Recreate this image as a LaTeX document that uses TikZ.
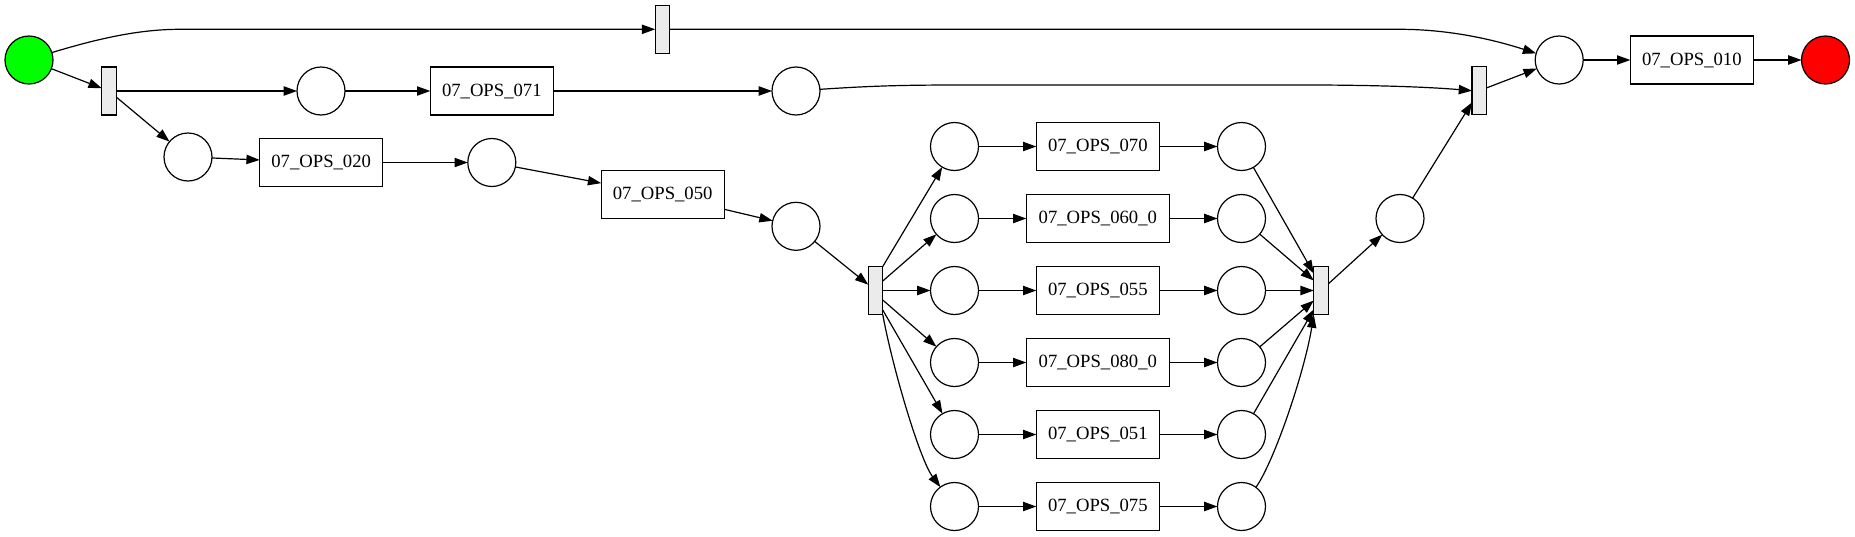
\documentclass[tikz,border=0pt]{standalone}
\usepackage{fontspec}
\setmainfont{Liberation Serif}
\usetikzlibrary{arrows.meta,calc}
\definecolor{tfill}{RGB}{235,235,235}
\definecolor{startgreen}{RGB}{0,255,0}
\definecolor{endred}{RGB}{255,0,0}
\begin{document}
\begin{tikzpicture}[x=1pt,y=-1pt,
  every node/.style={line width=1.2pt, draw=black, inner sep=0pt, outer sep=0pt},
  place/.style={circle, minimum size=48pt, fill=white},
  trans/.style={rectangle, minimum width=14.5pt, minimum height=48pt, fill=tfill},
  act/.style={rectangle, minimum width=123pt, minimum height=48pt, fill=white, font=\fontsize{18.67}{22}\selectfont},
  actw/.style={act, minimum width=143pt},
  arc/.style={line width=1.2pt, -{Triangle[length=13.3pt,width=9.3pt]}},
]
\useasboundingbox (0,0) rectangle (1855,536);
% nodes
\node[place, fill=startgreen] (src) at (29,60) {};
\node[trans] (t1) at (109,91) {};
\node[trans] (ttop) at (662.5,29.3) {};
\node[place] (p1) at (321,91) {};
\node[act] (a071) at (491.8,91) {07\_OPS\_071};
\node[place] (p071) at (796,91) {};
\node[place] (p2) at (188,157) {};
\node[act] (a020) at (321.2,162.5) {07\_OPS\_020};
\node[place] (p3) at (491.8,162.5) {};
\node[act] (a050) at (662.7,194.7) {07\_OPS\_050};
\node[place] (p4) at (796,226.3) {};
\node[trans] (tsplit) at (875.5,290.5) {};
\node[place] (l1) at (954.5,146.5) {};
\node[place] (l2) at (954.5,218.5) {};
\node[place] (l3) at (954.5,290.5) {};
\node[place] (l4) at (954.5,362.5) {};
\node[place] (l5) at (954.5,434.5) {};
\node[place] (l6) at (954.5,506.5) {};
\node[act]  (b1) at (1097.8,146.5) {07\_OPS\_070};
\node[actw] (b2) at (1097.8,218.5) {07\_OPS\_060\_0};
\node[act]  (b3) at (1097.8,290.5) {07\_OPS\_055};
\node[actw] (b4) at (1097.8,362.5) {07\_OPS\_080\_0};
\node[act]  (b5) at (1097.8,434.5) {07\_OPS\_051};
\node[act]  (b6) at (1097.8,506.5) {07\_OPS\_075};
\node[place] (r1) at (1241.5,146.5) {};
\node[place] (r2) at (1241.5,218.5) {};
\node[place] (r3) at (1241.5,290.5) {};
\node[place] (r4) at (1241.5,362.5) {};
\node[place] (r5) at (1241.5,434.5) {};
\node[place] (r6) at (1241.5,506.5) {};
\node[trans] (tjoin) at (1321,290.5) {};
\node[place] (pj) at (1400,218.5) {};
\node[trans] (tjoin2) at (1479.3,90.7) {};
\node[place] (pend) at (1559.2,60) {};
\node[act] (a010) at (1691.8,60) {07\_OPS\_010};
\node[place, fill=endred] (sink) at (1825.5,60) {};
% arcs
\draw[arc] (src.18) .. controls (100,38) and (140,29.3) .. (180,29.3) -- (ttop.west);
\draw[arc] (src) -- (t1);
\draw[arc] (t1) -- (p1);
\draw[arc] (t1) -- (p2);
\draw[arc] (p1) -- (a071);
\draw[arc] (a071) -- (p071);
\draw[arc] (p071.4) .. controls (870,86) and (900,85) .. (960,85) -- (1320,85) .. controls (1400,85.5) and (1440,88) .. (tjoin2.west);
\draw[arc] (ttop.east) -- (1400,29.3) .. controls (1450,29.3) and (1495,40) .. (pend.164);
\draw[arc] (p2) -- (a020);
\draw[arc] (a020) -- (p3);
\draw[arc] (p3) -- (a050);
\draw[arc] (a050) -- (p4);
\draw[arc] (p4) -- (tsplit);
\draw[arc] (tsplit.north east) -- (l1);
\draw[arc] ($(tsplit.east)+(0,-9.5)$) -- (l2);
\draw[arc] (tsplit.east) -- (l3);
\draw[arc] ($(tsplit.east)+(0,9.5)$) -- (l4);
\draw[arc] ($(tsplit.east)+(0,19.5)$) -- (l5);
\draw[arc] (tsplit.south east) .. controls (893,370) and (920,460) .. (l6.126);
\foreach \i in {1,...,6}{
  \draw[arc] (l\i) -- (b\i);
  \draw[arc] (b\i) -- (r\i);
}
\draw[arc] (r1) -- ($(tjoin.west)+(0,-17)$);
\draw[arc] (r2) -- ($(tjoin.west)+(0,-10)$);
\draw[arc] (r3) -- (tjoin.west);
\draw[arc] (r4) -- ($(tjoin.west)+(0,10)$);
\draw[arc] (r5) -- ($(tjoin.west)+(0,19)$);
\draw[arc] (r6.53) .. controls (1275,460) and (1305,370) .. (tjoin.south west);
\draw[arc] (tjoin) -- (pj);
\draw[arc] (pj) -- (tjoin2);
\draw[arc] (tjoin2) -- (pend);
\draw[arc] (pend) -- (a010);
\draw[arc] (a010) -- (sink);
\end{tikzpicture}
\end{document}
